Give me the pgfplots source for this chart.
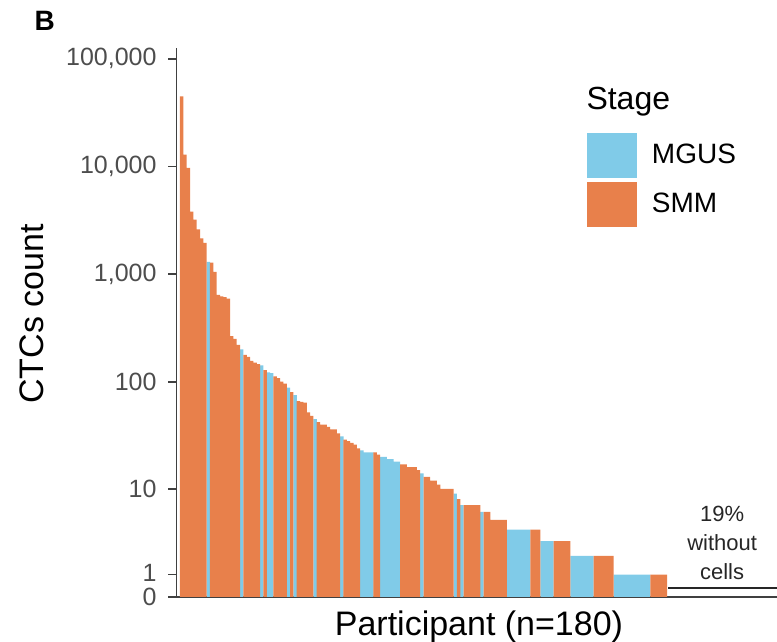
\documentclass[border=0pt]{standalone}
\usepackage{fontspec}
\setmainfont{Liberation Sans}
\setsansfont{Liberation Sans}
\usepackage{pgfplots}
\usepackage{pgfplotstable}
\pgfplotsset{compat=1.18}

\definecolor{mgus}{RGB}{128,203,232}
\definecolor{smm}{RGB}{232,128,75}
\definecolor{tickgrey}{RGB}{77,77,77}

% CTC counts per participant, sorted; x = participant rank
\pgfplotstableread{
x y
9 1300
19 200
25 142
27 122
28 120
33 88
35 75
41 45
49 31
55 23
56 22
57 22
58 22
61 20
62 20
63 19
64 19
65 18
66 18
73 14
83 9
85 7
91 6
99 4
100 4
101 4
102 4
103 4
104 4
105 4
109 3
110 3
111 3
112 3
118 2
119 2
120 2
121 2
122 2
123 2
124 2
131 1
132 1
133 1
134 1
135 1
136 1
137 1
138 1
139 1
140 1
141 1
}\mgus

\pgfplotstableread{
x y
1 44700
2 12850
3 9700
4 3800
5 3200
6 2600
7 2150
8 1950
10 1280
11 1050
12 640
13 620
14 610
15 590
16 265
17 250
18 220
20 178
21 170
22 156
23 150
24 146
26 128
29 112
30 108
31 100
32 96
34 80
36 66
37 65
38 64
39 52
40 48
42 42
43 40
44 40
45 38
46 36
47 36
48 33
50 29
51 28
52 27
53 26
54 24
59 22
60 21
67 17
68 17
69 16
70 16
71 16
72 15
74 13
75 13
76 12
77 12
78 11
79 10
80 10
81 10
82 10
84 8
86 7
87 7
88 7
89 7
90 7
92 6
93 6
94 5
95 5
96 5
97 5
98 5
106 4
107 4
108 4
113 3
114 3
115 3
116 3
117 3
125 2
126 2
127 2
128 2
129 2
130 2
142 1
143 1
144 1
145 1
146 1
}\smm

\begin{document}
\begin{tikzpicture}
\useasboundingbox (-88.25pt,-22.5pt) rectangle (300.25pt,298.5pt);
\begin{axis}[
    width=300.25pt, height=274.5pt, scale only axis,
    xmin=-0.55, xmax=179.45, ymin=0, ymax=5.1,
    axis lines=left,
    axis line style={-, black!75, line width=0.8pt},
    xtick=\empty,
    ytick={0,0.208988,1.004279,2.000043,3,4,5},
    yticklabels={\raisebox{-1.2pt}{0},\raisebox{1.2pt}{1},10,100,{1,000},{10,000},{100,000}},
    tick align=outside, major tick length=4pt,
    ytick style={black!75, line width=0.8pt},
    yticklabel style={font=\fontsize{12.5}{14}\selectfont, text=tickgrey, inner sep=0pt, xshift=-5.8pt},
    xlabel={Participant (n=180)},
    ylabel={CTCs count},
    xlabel style={font=\fontsize{17}{19}\selectfont, anchor=base, at={(axis description cs:0.5037,-0.071)}},
    ylabel style={font=\fontsize{17}{19}\selectfont, anchor=base, rotate=0, at={(axis description cs:-0.2223,0.5155)}},
    clip=false,
    legend style={draw=none, fill=none, at={(0.6836,0.8452)}, anchor=north west,
        inner sep=0pt, outer sep=0pt, row sep=2pt, column sep=7.5pt,
        font=\fontsize{14}{16}\selectfont, nodes={inner sep=0pt}},
    legend cell align=left,
]
\addplot[ybar, bar width=1.02, bar shift=0pt, fill=mgus, draw=none,
    legend image code/.code={\fill[mgus] (0pt,-11.25pt) rectangle (25pt,11.25pt);}]
    table[x=x, y expr={ln(\thisrow{y}/2+sqrt((\thisrow{y}/2)^2+1))/ln(10)}] {\mgus};
\addlegendentry{MGUS}
\addplot[ybar, bar width=1.02, bar shift=0pt, fill=smm, draw=none,
    legend image code/.code={\fill[smm] (0pt,-11.25pt) rectangle (25pt,11.25pt);}]
    table[x=x, y expr={ln(\thisrow{y}/2+sqrt((\thisrow{y}/2)^2+1))/ln(10)}] {\smm};
\addlegendentry{SMM}

\node[anchor=base west, font=\fontsize{16}{18}\selectfont] at (axis description cs:0.671,0.888) {Stage};
\node[anchor=base west, font=\bfseries\fontsize{14}{16}\selectfont] at (axis description cs:-0.2480,1.031) {B};

% participants with no cells
\draw[black!85, line width=0.8pt] (axis cs:146.8,0.086) -- (axis cs:179.45,0.086);
\node[align=center, font=\fontsize{11}{14.5}\selectfont, text=black!85] at (axis cs:163,0.5) {19\%\\without\\cells};
\end{axis}
\end{tikzpicture}
\end{document}
